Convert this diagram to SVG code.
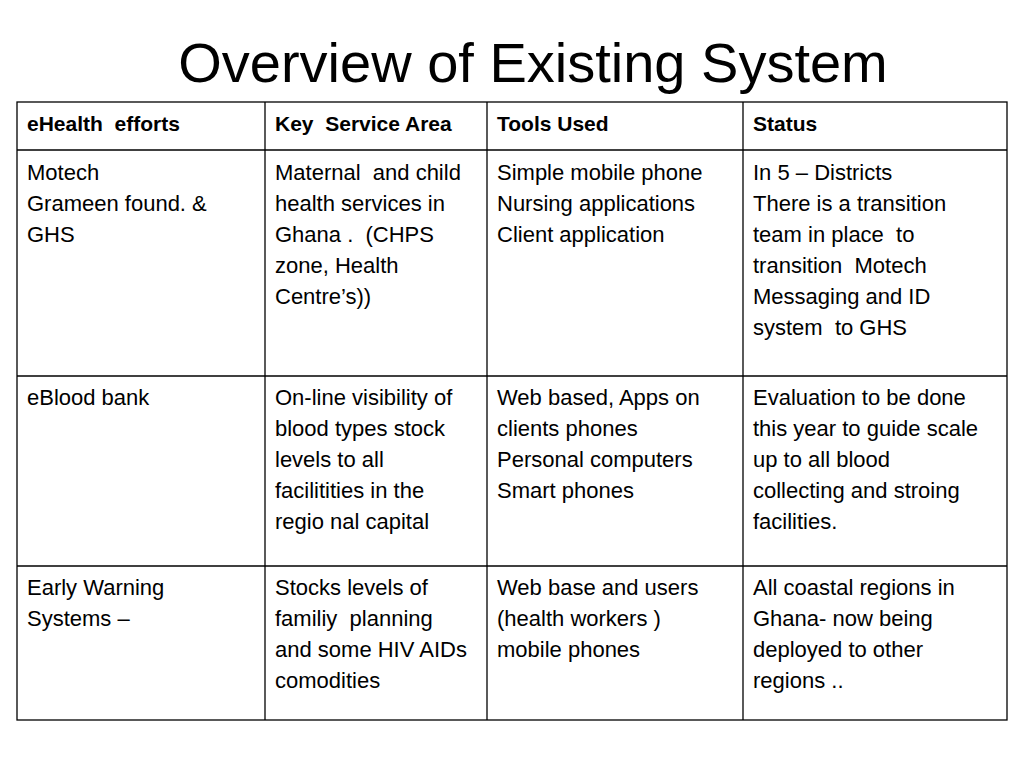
<svg xmlns="http://www.w3.org/2000/svg" width="1024" height="768" viewBox="0 0 1024 768">
<style>
text{font-family:"Liberation Sans",Arial,sans-serif;fill:#000;white-space:pre}
.t{font-size:56px}
.h{font-size:21px;font-weight:bold}
.c{font-size:22px}
line{stroke:#000;stroke-width:1.3}
</style>
<rect width="1024" height="768" fill="#fff"/>
<text class="t" x="533" y="82" text-anchor="middle">Overview of Existing System</text>
<g id="grid">
<rect x="17" y="102" width="990" height="618" fill="none" stroke="#000" stroke-width="1.3"/>
<line x1="265" y1="102" x2="265" y2="720"/>
<line x1="487" y1="102" x2="487" y2="720"/>
<line x1="743" y1="102" x2="743" y2="720"/>
<line x1="17" y1="150" x2="1007" y2="150"/>
<line x1="17" y1="376" x2="1007" y2="376"/>
<line x1="17" y1="566" x2="1007" y2="566"/>
</g>
<g id="header">
<text class="h" x="27" y="131">eHealth  efforts</text>
<text class="h" x="275" y="131">Key  Service Area</text>
<text class="h" x="497" y="131">Tools Used</text>
<text class="h" x="753" y="131">Status</text>
</g>
<g id="row1">
<text class="c" x="27" y="180"><tspan x="27">Motech</tspan><tspan x="27" dy="31">Grameen found. &amp;</tspan><tspan x="27" dy="31">GHS</tspan></text>
<text class="c" x="275" y="180"><tspan x="275">Maternal  and child</tspan><tspan x="275" dy="31">health services in</tspan><tspan x="275" dy="31">Ghana .  (CHPS</tspan><tspan x="275" dy="31">zone, Health</tspan><tspan x="275" dy="31">Centre’s))</tspan></text>
<text class="c" x="497" y="180"><tspan x="497">Simple mobile phone</tspan><tspan x="497" dy="31">Nursing applications</tspan><tspan x="497" dy="31">Client application</tspan></text>
<text class="c" x="753" y="180"><tspan x="753">In 5 – Districts</tspan><tspan x="753" dy="31">There is a transition</tspan><tspan x="753" dy="31">team in place  to</tspan><tspan x="753" dy="31">transition  Motech</tspan><tspan x="753" dy="31">Messaging and ID</tspan><tspan x="753" dy="31">system  to GHS</tspan></text>
</g>
<g id="row2">
<text class="c" x="27" y="405">eBlood bank</text>
<text class="c" x="275" y="405"><tspan x="275">On-line visibility of</tspan><tspan x="275" dy="31">blood types stock</tspan><tspan x="275" dy="31">levels to all</tspan><tspan x="275" dy="31">facilitities in the</tspan><tspan x="275" dy="31">regio nal capital</tspan></text>
<text class="c" x="497" y="405"><tspan x="497">Web based, Apps on</tspan><tspan x="497" dy="31">clients phones</tspan><tspan x="497" dy="31">Personal computers</tspan><tspan x="497" dy="31">Smart phones</tspan></text>
<text class="c" x="753" y="405"><tspan x="753">Evaluation to be done</tspan><tspan x="753" dy="31">this year to guide scale</tspan><tspan x="753" dy="31">up to all blood</tspan><tspan x="753" dy="31">collecting and stroing</tspan><tspan x="753" dy="31">facilities.</tspan></text>
</g>
<g id="row3">
<text class="c" x="27" y="595"><tspan x="27">Early Warning</tspan><tspan x="27" dy="31">Systems –</tspan></text>
<text class="c" x="275" y="595"><tspan x="275">Stocks levels of</tspan><tspan x="275" dy="31">familiy  planning</tspan><tspan x="275" dy="31">and some HIV AIDs</tspan><tspan x="275" dy="31">comodities</tspan></text>
<text class="c" x="497" y="595"><tspan x="497">Web base and users</tspan><tspan x="497" dy="31">(health workers )</tspan><tspan x="497" dy="31">mobile phones</tspan></text>
<text class="c" x="753" y="595"><tspan x="753">All coastal regions in</tspan><tspan x="753" dy="31">Ghana- now being</tspan><tspan x="753" dy="31">deployed to other</tspan><tspan x="753" dy="31">regions ..</tspan></text>
</g>
</svg>
